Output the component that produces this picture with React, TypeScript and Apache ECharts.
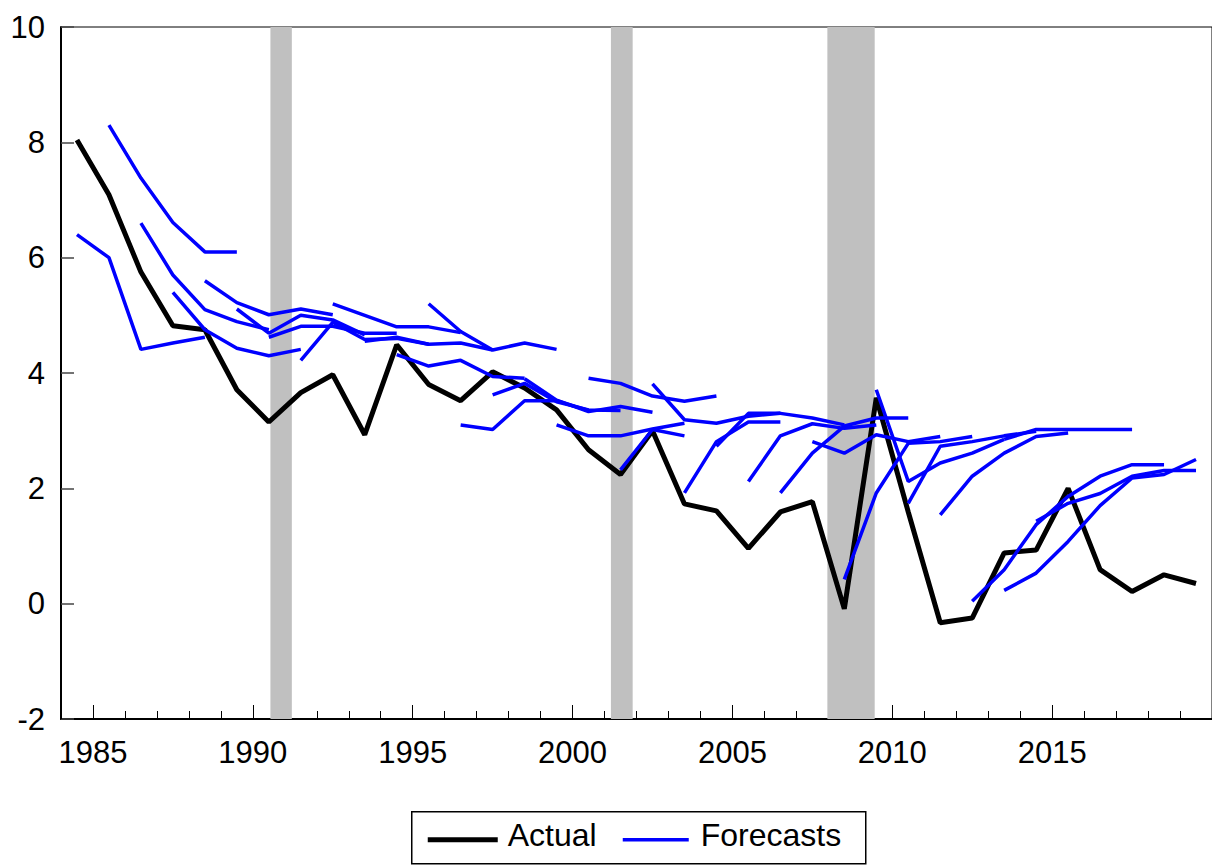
import React, { useEffect, useRef } from 'react';
import * as echarts from 'echarts';

// Actual values, one per year starting 1984
const actualStartYear = 1984;
const actualValues = [
  8.04, 7.09, 5.75, 4.82, 4.75, 3.71, 3.15, 3.66, 3.97, 2.93,
  4.49, 3.8, 3.52, 4.02, 3.74, 3.36, 2.67, 2.24, 3.0, 1.73,
  1.61, 0.96, 1.59, 1.77, -0.09, 3.57, 1.59, -0.33, -0.25, 0.88,
  0.93, 2.0, 0.59, 0.21, 0.5, 0.35,
];

// Forecast vintages: first forecast year and the forecast path
const forecastStartYears = [
  1984, 1985, 1986, 1987, 1988, 1989, 1990, 1991, 1992, 1993,
  1994, 1995, 1996, 1997, 1998, 1999, 2000, 2001, 2002, 2003,
  2004, 2005, 2006, 2007, 2008, 2009, 2010, 2011, 2012, 2013,
  2013, 2014,
];
const forecastPaths = [
  [6.4, 6.0, 4.41, 4.52, 4.62],
  [8.3, 7.38, 6.61, 6.1, 6.1],
  [6.6, 5.7, 5.1, 4.89, 4.75],
  [5.4, 4.75, 4.43, 4.3, 4.41],
  [5.6, 5.22, 5.01, 5.11, 5.01],
  [5.11, 4.69, 5.0, 4.92, 4.66],
  [4.62, 4.81, 4.81, 4.69, 4.69],
  [4.22, 4.88, 4.58, 4.6, 4.5],
  [5.2, 5.0, 4.8, 4.8, 4.7],
  [4.55, 4.62, 4.5, 4.52, 4.4],
  [4.32, 4.12, 4.22, 3.94, 3.91],
  [5.2, 4.72, 4.4, 4.52, 4.41],
  [3.1, 3.02, 3.52, 3.52, 3.35],
  [3.62, 3.82, 3.5, 3.36, 3.35],
  [3.9, 3.53, 3.33, 3.42, 3.32],
  [3.1, 2.91, 2.91, 3.03, 3.13],
  [3.91, 3.82, 3.6, 3.51, 3.6],
  [2.32, 3.02, 2.91],
  [3.81, 3.19, 3.13, 3.25, 3.3],
  [1.92, 2.81, 3.15, 3.15],
  [2.73, 3.3, 3.3, 3.22, 3.1],
  [2.12, 2.91, 3.12, 3.04, 3.1],
  [1.92, 2.61, 3.08, 3.22, 3.22],
  [2.81, 2.61, 2.93, 2.81, 2.9],
  [0.42, 1.92, 2.78, 2.81, 2.9],
  [3.71, 2.12, 2.44, 2.61, 2.85],
  [1.74, 2.73, 2.81, 2.91, 2.99],
  [1.54, 2.21, 2.61, 2.9, 2.96],
  [0.04, 0.59, 1.37, 1.86, 2.21, 2.41, 2.41],
  [0.23, 0.53, 1.08, 1.7, 2.18, 2.24, 2.5],
  [2.85, 3.02, 3.02, 3.02, 3.02],
  [1.43, 1.74, 1.91, 2.21, 2.31, 2.31],
];

// Recession shading (fractional years)
const recessionStarts = [1990.55, 2001.2, 2007.97];
const recessionEnds = [1991.22, 2001.88, 2009.45];

// Axis ticks / labels
const xMin = 1984;
const xMax = 2020;
const xLabelYears = [1985, 1990, 1995, 2000, 2005, 2010, 2015];
const xMajorTickYears = [1985, 1990, 1995, 2000, 2005, 2010, 2015, 2020];
const yMin = -2;
const yMax = 10;
const yStep = 2;

const legendLabels = ['Actual', 'Forecasts'];
const FONT = "'Liberation Sans', Arial, sans-serif";

export default function App() {
  const ref = useRef<HTMLDivElement>(null);

  useEffect(() => {
    if (!ref.current) return;
    const chart = echarts.init(ref.current, null, { renderer: 'svg' });

    const toPoints = (start: number, vals: number[]) =>
      vals.map((v, i) => [start + i + 0.5, v]);

    const minorTicks: number[] = [];
    for (let y = xMin; y <= xMax; y++) minorTicks.push(y);

    const forecastSeries = forecastPaths.map((vals, k) => ({
      type: 'line',
      name: legendLabels[1],
      xAxisIndex: 0,
      yAxisIndex: 0,
      data: toPoints(forecastStartYears[k], vals),
      showSymbol: false,
      symbol: 'none',
      lineStyle: { color: '#0000ff', width: 3.5 },
      itemStyle: { color: '#0000ff' },
      z: 3,
      silent: true,
    }));

    const option: any = {
      animation: false,
      grid: {
        left: 61,
        top: 27,
        right: -5,
        bottom: 146,
        show: true,
        borderColor: '#000',
        borderWidth: 1,
        backgroundColor: 'transparent',
      },
      xAxis: [
        {
          type: 'value',
          min: xMin,
          max: xMax,
          position: 'bottom',
          axisLine: { show: true, onZero: false, lineStyle: { color: '#000', width: 2 } },
          axisTick: {
            show: true,
            inside: true,
            length: 8,
            customValues: minorTicks,
            lineStyle: { color: '#000', width: 1 },
          },
          axisLabel: { show: false },
          splitLine: { show: false },
        },
        {
          type: 'value',
          min: xMin,
          max: xMax,
          position: 'bottom',
          offset: 0,
          axisLine: { show: false, onZero: false },
          axisTick: {
            show: true,
            inside: true,
            length: 14,
            customValues: xMajorTickYears,
            lineStyle: { color: '#000', width: 1 },
          },
          axisLabel: {
            show: true,
            customValues: xLabelYears,
            formatter: (v: number) => String(v),
            color: '#000',
            fontSize: 31,
            fontFamily: FONT,
            margin: 18,
          },
          splitLine: { show: false },
        },
      ],
      yAxis: {
        type: 'value',
        min: yMin,
        max: yMax,
        interval: yStep,
        axisLine: { show: true, onZero: false, lineStyle: { color: '#000', width: 2 } },
        axisTick: { show: true, inside: true, length: 13, lineStyle: { color: '#444', width: 1.5 } },
        axisLabel: { color: '#000', fontSize: 31, fontFamily: FONT, margin: 16 },
        splitLine: { show: false },
      },
      series: [
        {
          type: 'line',
          name: legendLabels[0],
          data: toPoints(actualStartYear, actualValues),
          showSymbol: false,
          symbol: 'none',
          lineStyle: { color: '#000', width: 5 },
          itemStyle: { color: '#000' },
          z: 2,
          silent: true,
          markArea: {
            silent: true,
            itemStyle: { color: '#c0c0c0' },
            data: recessionStarts.map((s, i) => [{ xAxis: s }, { xAxis: recessionEnds[i] }]),
          },
        },
        ...forecastSeries,
      ],
      graphic: [
        {
          type: 'group',
          left: 411,
          top: 811,
          children: [
            {
              type: 'rect',
              shape: { x: 0, y: 0, width: 454, height: 52 },
              style: { fill: '#fff', stroke: '#000', lineWidth: 1.5 },
            },
            {
              type: 'line',
              shape: { x1: 16, y1: 28, x2: 86, y2: 28 },
              style: { stroke: '#000', lineWidth: 5 },
            },
            {
              type: 'text',
              x: 96,
              y: 23,
              style: {
                text: legendLabels[0],
                fill: '#000',
                font: `32px ${FONT}`,
                verticalAlign: 'middle',
                align: 'left',
              },
            },
            {
              type: 'line',
              shape: { x1: 211, y1: 28, x2: 277, y2: 28 },
              style: { stroke: '#0000ff', lineWidth: 3.5 },
            },
            {
              type: 'text',
              x: 289,
              y: 23,
              style: {
                text: legendLabels[1],
                fill: '#000',
                font: `32px ${FONT}`,
                verticalAlign: 'middle',
                align: 'left',
              },
            },
          ],
        },
      ],
    };

    chart.setOption(option);
    return () => chart.dispose();
  }, []);

  return (
    <div
      ref={ref}
      style={{ position: 'absolute', left: 0, top: 0, width: 1212, height: 865 }}
    />
  );
}
